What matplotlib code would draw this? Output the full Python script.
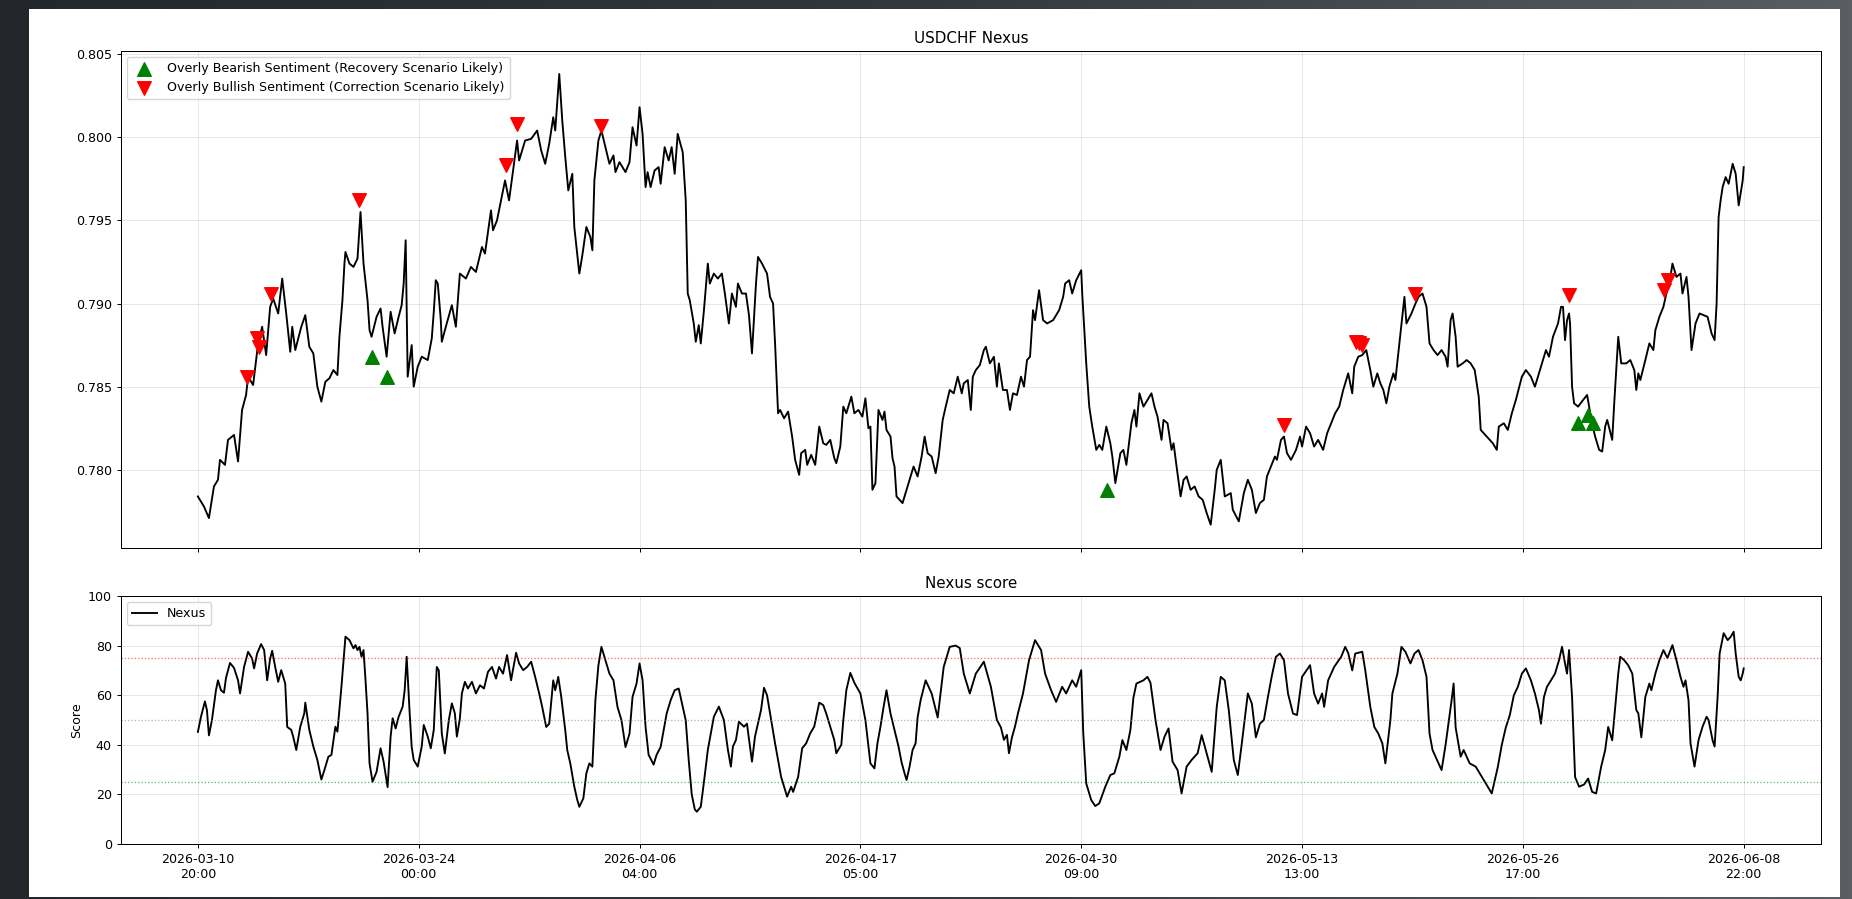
import numpy as np
import matplotlib
matplotlib.use('Agg')  # no display
import matplotlib.pyplot as plt
from matplotlib.patches import Rectangle
from matplotlib.colors import LinearSegmentedColormap

# ─────────────────────────────────────────────────────────────────
# Data (x = bar index, hourly bars)
# ─────────────────────────────────────────────────────────────────
tick_labels = ['2026-03-10\n20:00', '2026-03-24\n00:00', '2026-04-06\n04:00',
               '2026-04-17\n05:00', '2026-04-30\n09:00', '2026-05-13\n13:00',
               '2026-05-26\n17:00', '2026-06-08\n22:00']
LAST_BAR = 1540

price_points = [
    (0, 0.7784), (6, 0.7778), (11, 0.7771), (16, 0.7790), (20, 0.7794), (22, 0.7806), (27, 0.7803), (30, 0.7818), (36, 0.7821), (40, 0.7805),
    (44, 0.7836), (48, 0.7845), (50, 0.7856), (55, 0.7851), (60, 0.7876), (64, 0.7886), (68, 0.7869), (72, 0.7898), (75, 0.7903), (80, 0.7894),
    (84, 0.7915), (88, 0.7894), (92, 0.7871), (94, 0.7886), (97, 0.7872), (103, 0.7886), (107, 0.7893), (111, 0.7874), (115, 0.7870), (119, 0.7850),
    (123, 0.7841), (127, 0.7853), (131, 0.7855), (135, 0.7860), (139, 0.7857), (141, 0.7880), (144, 0.7902), (146, 0.7924), (147, 0.7931), (151, 0.7924),
    (155, 0.7922), (159, 0.7927), (162, 0.7955), (165, 0.7924), (169, 0.7902), (171, 0.7884), (173, 0.7880), (178, 0.7892), (182, 0.7897), (184, 0.7886),
    (188, 0.7868), (192, 0.7895), (196, 0.7882), (200, 0.7892), (203, 0.7899), (205, 0.7912), (207, 0.7938), (209, 0.7856), (213, 0.7875), (215, 0.7850),
    (219, 0.7862), (223, 0.7868), (229, 0.7866), (233, 0.7879), (235, 0.7895), (237, 0.7914), (239, 0.7912), (242, 0.7890), (243, 0.7877), (247, 0.7886),
    (253, 0.7899), (257, 0.7886), (261, 0.7918), (267, 0.7915), (272, 0.7922), (277, 0.7919), (283, 0.7934), (286, 0.7930), (292, 0.7956), (294, 0.7944),
    (298, 0.7950), (302, 0.7962), (306, 0.7974), (310, 0.7962), (314, 0.7980), (318, 0.7998), (320, 0.7986), (326, 0.7998), (332, 0.7999), (338, 0.8004),
    (342, 0.7992), (346, 0.7984), (350, 0.7996), (354, 0.8012), (356, 0.8004), (360, 0.8038), (363, 0.8010), (366, 0.7988), (369, 0.7968), (373, 0.7978),
    (375, 0.7946), (380, 0.7918), (383, 0.7929), (387, 0.7946), (391, 0.7940), (393, 0.7932), (395, 0.7974), (399, 0.7998), (402, 0.8004), (406, 0.7994),
    (410, 0.7984), (414, 0.7989), (416, 0.7979), (420, 0.7985), (426, 0.7979), (430, 0.7985), (433, 0.8006), (437, 0.7995), (440, 0.8018), (443, 0.8002),
    (446, 0.7970), (448, 0.7979), (451, 0.7970), (455, 0.7980), (459, 0.7982), (461, 0.7972), (465, 0.7994), (469, 0.7986), (472, 0.7994), (475, 0.7978),
    (478, 0.8002), (483, 0.7991), (486, 0.7962), (488, 0.7906), (490, 0.7902), (494, 0.7888), (496, 0.7877), (499, 0.7887), (501, 0.7876), (504, 0.7895),
    (508, 0.7924), (510, 0.7912), (514, 0.7918), (518, 0.7915), (522, 0.7918), (525, 0.7906), (529, 0.7888), (532, 0.7906), (536, 0.7898), (538, 0.7912),
    (542, 0.7906), (546, 0.7906), (549, 0.7893), (552, 0.7870), (556, 0.7912), (558, 0.7928), (562, 0.7924), (567, 0.7918), (570, 0.7904), (573, 0.7900),
    (575, 0.7876), (578, 0.7834), (580, 0.7836), (584, 0.7831), (588, 0.7835), (592, 0.7820), (595, 0.7806), (599, 0.7797), (601, 0.7810), (605, 0.7812),
    (607, 0.7803), (611, 0.7809), (615, 0.7803), (619, 0.7826), (623, 0.7816), (626, 0.7815), (630, 0.7818), (634, 0.7807), (636, 0.7804), (640, 0.7814),
    (643, 0.7838), (646, 0.7834), (651, 0.7844), (654, 0.7834), (658, 0.7836), (662, 0.7832), (665, 0.7843), (668, 0.7825), (670, 0.7826), (672, 0.7788),
    (675, 0.7792), (678, 0.7836), (682, 0.7830), (684, 0.7835), (686, 0.7824), (690, 0.7820), (692, 0.7807), (694, 0.7802), (696, 0.7784), (702, 0.7780),
    (707, 0.7790), (713, 0.7802), (717, 0.7796), (721, 0.7808), (724, 0.7820), (727, 0.7810), (731, 0.7808), (735, 0.7798), (738, 0.7808), (742, 0.7830),
    (745, 0.7838), (749, 0.7848), (753, 0.7846), (757, 0.7856), (761, 0.7846), (763, 0.7852), (767, 0.7854), (770, 0.7836), (772, 0.7856), (775, 0.7860),
    (779, 0.7863), (783, 0.7872), (785, 0.7874), (789, 0.7864), (793, 0.7868), (796, 0.7850), (798, 0.7864), (802, 0.7848), (806, 0.7848), (809, 0.7836),
    (812, 0.7846), (816, 0.7845), (820, 0.7856), (823, 0.7850), (826, 0.7866), (829, 0.7868), (832, 0.7896), (834, 0.7890), (838, 0.7908), (842, 0.7890),
    (846, 0.7888), (852, 0.7890), (858, 0.7896), (862, 0.7904), (864, 0.7912), (868, 0.7914), (871, 0.7906), (875, 0.7914), (880, 0.7920), (881, 0.7906),
    (885, 0.7864), (888, 0.7838), (891, 0.7826), (895, 0.7812), (898, 0.7815), (901, 0.7812), (905, 0.7826), (909, 0.7816), (911, 0.7808), (914, 0.7792),
    (919, 0.7810), (922, 0.7812), (925, 0.7803), (930, 0.7828), (933, 0.7836), (935, 0.7826), (938, 0.7846), (942, 0.7838), (946, 0.7842), (950, 0.7846),
    (953, 0.7838), (956, 0.7832), (960, 0.7818), (962, 0.7830), (966, 0.7828), (970, 0.7812), (972, 0.7816), (975, 0.7802), (979, 0.7784), (982, 0.7794),
    (985, 0.7796), (989, 0.7788), (993, 0.7790), (997, 0.7784), (1001, 0.7782), (1005, 0.7774), (1009, 0.7767), (1013, 0.7788), (1015, 0.7800), (1019, 0.7806),
    (1023, 0.7784), (1029, 0.7786), (1031, 0.7776), (1037, 0.7769), (1042, 0.7786), (1046, 0.7794), (1050, 0.7788), (1054, 0.7774), (1058, 0.7780), (1062, 0.7782),
    (1065, 0.7796), (1069, 0.7802), (1073, 0.7808), (1075, 0.7806), (1079, 0.7818), (1082, 0.7820), (1085, 0.7810), (1089, 0.7806), (1094, 0.7812), (1098, 0.7820),
    (1100, 0.7814), (1104, 0.7826), (1108, 0.7822), (1112, 0.7814), (1116, 0.7818), (1121, 0.7812), (1125, 0.7822), (1129, 0.7828), (1133, 0.7834), (1137, 0.7838),
    (1141, 0.7848), (1146, 0.7858), (1150, 0.7846), (1152, 0.7862), (1156, 0.7868), (1160, 0.7869), (1164, 0.7872), (1168, 0.7860), (1171, 0.7850), (1175, 0.7858),
    (1178, 0.7852), (1181, 0.7848), (1184, 0.7840), (1187, 0.7850), (1191, 0.7858), (1193, 0.7854), (1197, 0.7876), (1200, 0.7892), (1202, 0.7904), (1204, 0.7888),
    (1209, 0.7894), (1213, 0.7900), (1216, 0.7904), (1220, 0.7906), (1224, 0.7898), (1227, 0.7876), (1231, 0.7872), (1235, 0.7869), (1239, 0.7872), (1243, 0.7868),
    (1245, 0.7862), (1248, 0.7890), (1250, 0.7894), (1253, 0.7880), (1255, 0.7862), (1260, 0.7864), (1264, 0.7866), (1268, 0.7864), (1272, 0.7860), (1276, 0.7844),
    (1278, 0.7824), (1284, 0.7820), (1290, 0.7816), (1294, 0.7812), (1296, 0.7826), (1301, 0.7828), (1305, 0.7824), (1309, 0.7834), (1313, 0.7842), (1319, 0.7856),
    (1323, 0.7860), (1328, 0.7856), (1332, 0.7850), (1336, 0.7858), (1339, 0.7864), (1343, 0.7872), (1346, 0.7868), (1350, 0.7880), (1355, 0.7888), (1358, 0.7898),
    (1360, 0.7898), (1362, 0.7878), (1364, 0.7890), (1366, 0.7894), (1367, 0.7888), (1369, 0.7850), (1371, 0.7840), (1375, 0.7838), (1380, 0.7842), (1384, 0.7845),
    (1386, 0.7838), (1388, 0.7830), (1392, 0.7820), (1396, 0.7812), (1399, 0.7811), (1402, 0.7826), (1404, 0.7830), (1409, 0.7818), (1411, 0.7840), (1415, 0.7880),
    (1418, 0.7864), (1423, 0.7864), (1427, 0.7866), (1431, 0.7860), (1433, 0.7848), (1435, 0.7858), (1437, 0.7854), (1442, 0.7866), (1446, 0.7876), (1450, 0.7872),
    (1452, 0.7884), (1456, 0.7892), (1460, 0.7898), (1463, 0.7906), (1466, 0.7912), (1469, 0.7924), (1473, 0.7916), (1477, 0.7918), (1479, 0.7906), (1483, 0.7916),
    (1485, 0.7904), (1488, 0.7872), (1492, 0.7888), (1496, 0.7894), (1500, 0.7893), (1504, 0.7892), (1508, 0.7882), (1511, 0.7878), (1513, 0.7900), (1515, 0.7952),
    (1517, 0.7962), (1519, 0.7970), (1522, 0.7976), (1525, 0.7972), (1529, 0.7984), (1532, 0.7978), (1535, 0.7959), (1539, 0.7974), (1540, 0.7982),
]

score_points = [
    (0, 45.2), (3, 51.2), (7, 57.5), (9, 54), (11, 43.8), (14, 50), (18, 62), (20, 66), (23, 62), (26, 61),
    (28, 67), (30, 70), (32, 73), (36, 71), (40, 66), (42, 60.7), (46, 71.4), (50, 77.5), (54, 74.8), (56, 70.8),
    (59, 76.8), (63, 80.6), (66, 78.2), (69, 66), (72, 74.8), (74, 77.9), (77, 71.4), (80, 65.4), (83, 70.1), (87, 64.7),
    (89, 47.2), (93, 46), (95, 43.2), (98, 37.9), (102, 47.3), (106, 52.7), (107, 57), (111, 46), (115, 39.3), (119, 33.9),
    (123, 26), (126, 29.8), (130, 35.2), (133, 35.9), (137, 47.3), (139, 45.3), (143, 63.4), (147, 83.6), (151, 82.2), (155, 78.9),
    (157, 80.2), (159, 78.2), (161, 79.5), (163, 75.5), (165, 78.2), (167, 66), (169, 52.6), (171, 32.5), (174, 25.1), (178, 29.1),
    (182, 38.6), (185, 33.2), (189, 22.9), (192, 43.3), (194, 50.7), (197, 46.6), (200, 51.3), (204, 55.4), (206, 62), (208, 75.5),
    (211, 52.6), (213, 39.1), (215, 33.9), (219, 31.2), (223, 39.3), (225, 48), (229, 43.3), (232, 38.6), (235, 46), (236, 55),
    (238, 71.4), (240, 70), (243, 44.5), (246, 36.5), (250, 50), (253, 56.7), (256, 52.7), (258, 43.3), (261, 50.6), (263, 60.7),
    (266, 65.4), (269, 62.7), (273, 65.4), (277, 60.7), (281, 64), (285, 62.7), (289, 69.4), (293, 71.4), (297, 66.7), (300, 71.4),
    (304, 68.7), (308, 76.2), (312, 66), (317, 77.1), (320, 72.8), (324, 70.1), (328, 71.4), (332, 73.5), (336, 67.4), (340, 60.7),
    (343, 55.3), (347, 47.2), (350, 48.5), (354, 66), (356, 62), (359, 67.4), (362, 59.3), (366, 45.8), (368, 37.8), (371, 32.5),
    (375, 23.1), (378, 17.7), (380, 15), (384, 18.4), (387, 28.5), (390, 32.5), (393, 31.2), (396, 58), (399, 72), (402, 79.5),
    (406, 74.1), (410, 68.7), (414, 66), (418, 55.3), (422, 49.9), (426, 39.1), (430, 44.5), (433, 59.3), (437, 64.7), (440, 72.8),
    (443, 66), (446, 47.2), (449, 36), (454, 32), (457, 36), (461, 39.1), (467, 52.6), (471, 58), (475, 62), (479, 62.7),
    (483, 55.3), (486, 49.9), (489, 33.7), (492, 20), (495, 14), (497, 13), (501, 15), (504, 24.5), (508, 37.9), (514, 51.3),
    (519, 55.4), (524, 50), (528, 38), (531, 31.2), (533, 39.3), (536, 41.9), (539, 49.3), (544, 47.3), (547, 48.5), (552, 33.2),
    (555, 43.3), (561, 54), (564, 63), (567, 60), (570, 52.7), (575, 40.6), (581, 27.1), (585, 21.8), (587, 19.1), (591, 23.1),
    (593, 21), (598, 27.1), (602, 38.6), (606, 40.6), (610, 44.6), (614, 47.3), (619, 57), (623, 56), (626, 52.6), (634, 41.9),
    (636, 36.6), (641, 40), (643, 50), (646, 62), (650, 69), (654, 65), (660, 60.7), (665, 50), (670, 32.5), (674, 30.5),
    (677, 40.6), (680, 47.3), (683, 55), (686, 62), (690, 52.6), (694, 46), (698, 39.3), (701, 33), (704, 28.5), (706, 25.8),
    (709, 31.2), (712, 37.9), (715, 40.6), (717, 51), (720, 58), (725, 66), (731, 60.7), (737, 51), (743, 71.4), (749, 79.5),
    (755, 80), (759, 79), (763, 68.7), (769, 60.7), (775, 68.7), (783, 73.5), (790, 63.4), (796, 50), (800, 47), (803, 42),
    (806, 44), (808, 36.6), (811, 43), (814, 47.3), (817, 52.7), (822, 60.7), (828, 74.1), (834, 82.2), (840, 78.2), (844, 68.7),
    (850, 62), (855, 57.3), (861, 63.4), (865, 60.7), (871, 66), (875, 63.4), (880, 70.1), (882, 45), (885, 24.4), (890, 17.7),
    (894, 15.3), (898, 16.4), (904, 23.1), (909, 27.8), (913, 28.5), (918, 35.2), (921, 41.9), (925, 37.9), (929, 46), (932, 59),
    (935, 64.7), (942, 66), (946, 67.4), (949, 65), (954, 50), (959, 37.9), (963, 43.3), (967, 46.6), (971, 33.2), (976, 29.8),
    (980, 20.4), (985, 31.2), (990, 33.9), (996, 36.6), (1000, 43.9), (1004, 38), (1010, 29.1), (1015, 55.3), (1019, 67.4), (1023, 66),
    (1027, 54), (1032, 33.9), (1036, 27.8), (1040, 40.6), (1046, 60.7), (1050, 56.6), (1054, 43), (1058, 48.5), (1062, 50), (1066, 59.3),
    (1070, 68), (1074, 75.5), (1078, 76.8), (1082, 74.1), (1086, 60.7), (1091, 52.6), (1095, 52), (1100, 67.4), (1108, 72.1), (1112, 60.7),
    (1116, 56.6), (1120, 60.7), (1122, 55.3), (1126, 66), (1132, 71.4), (1139, 75.5), (1143, 79.5), (1146, 77), (1150, 70), (1153, 76.8),
    (1160, 77.5), (1163, 70), (1168, 55.3), (1172, 47.2), (1176, 44.5), (1180, 40.6), (1183, 32.5), (1188, 50), (1190, 60.7), (1195, 68.7),
    (1199, 79.5), (1203, 77.5), (1208, 72.8), (1212, 76.8), (1216, 78.2), (1220, 74.1), (1224, 67.4), (1227, 44.5), (1230, 37.9), (1236, 32.5),
    (1239, 29.8), (1243, 40), (1249, 58), (1251, 64.7), (1253, 47), (1258, 35.2), (1261, 37.9), (1267, 32.5), (1273, 31.2), (1278, 27.8),
    (1284, 23.8), (1289, 20.4), (1295, 31), (1299, 40), (1303, 47), (1307, 52), (1311, 60), (1315, 63.4), (1319, 68.7), (1323, 70.8),
    (1328, 66), (1332, 60.7), (1336, 54), (1338, 48.5), (1341, 59.3), (1344, 63.4), (1348, 66), (1352, 68.7), (1356, 74.1), (1359, 79.5),
    (1362, 72.8), (1364, 68.7), (1366, 78.2), (1369, 59.3), (1372, 27), (1376, 23.1), (1381, 24), (1385, 26.4), (1389, 21), (1393, 20.4),
    (1398, 31.2), (1402, 37.9), (1405, 47.2), (1409, 41.8), (1412, 55.3), (1415, 68.7), (1417, 75.5), (1421, 74.1), (1425, 72), (1429, 68.7),
    (1433, 54), (1435, 52.7), (1438, 43), (1442, 59.3), (1446, 64.7), (1448, 62), (1452, 68.7), (1456, 74.1), (1460, 78.2), (1464, 75),
    (1469, 80.2), (1473, 74.1), (1477, 67.4), (1480, 63.4), (1482, 66), (1485, 58), (1487, 40.6), (1491, 31.2), (1495, 41.9), (1499, 47.3),
    (1503, 51.3), (1505, 50), (1509, 41.8), (1511, 39.3), (1514, 59.3), (1516, 76.8), (1520, 85), (1524, 82.2), (1527, 83.5), (1530, 85.6),
    (1532, 76.8), (1535, 67.4), (1537, 66), (1539, 68.7), (1540, 70.8),
]

# green ^ : overly bearish sentiment
bearish_marks = [(173, 0.7868), (188, 0.7856), (906, 0.7788),
                 (1375, 0.7828), (1385, 0.7833), (1390, 0.7828)]
# red v : overly bullish sentiment
bullish_marks = [(49, 0.7856), (59, 0.7879), (61, 0.7874), (73, 0.7906),
                 (161, 0.7962), (307, 0.7983), (318, 0.8008), (402, 0.8007),
                 (1082, 0.7827), (1154, 0.7877), (1157, 0.7876), (1160, 0.7875),
                 (1213, 0.7906), (1366, 0.7905), (1461, 0.7908), (1465, 0.7914)]

THRESH_HIGH, THRESH_MID, THRESH_LOW = 75, 50, 25

# ─────────────────────────────────────────────────────────────────
# Style (reference was rendered at roughly 90 dpi)
# ─────────────────────────────────────────────────────────────────
S = 0.905
plt.rcParams.update({
    'font.family': 'DejaVu Sans',
    'font.size': 10 * S,
    'axes.linewidth': 0.8 * S,
    'axes.titlepad': 6 * S,
    'axes.labelpad': 4 * S,
    'xtick.major.size': 3.5 * S, 'ytick.major.size': 3.5 * S,
    'xtick.major.width': 0.8 * S, 'ytick.major.width': 0.8 * S,
    'xtick.major.pad': 3.5 * S, 'ytick.major.pad': 3.5 * S,
    'legend.fontsize': 10 * S,
    'grid.linewidth': 0.8 * S,
})

W, H = 1852, 899
fig = plt.figure(figsize=(W / 100, H / 100), dpi=100)

# dark backdrop around the white chart panel
bg = fig.add_axes([0, 0, 1, 1], zorder=-2)
bg_cmap = LinearSegmentedColormap.from_list('bg', ['#23262a', '#34373c', '#5a5d62'])
bg.imshow(np.linspace(0, 1, 256)[None, :], aspect='auto', cmap=bg_cmap,
          extent=[0, 1, 0, 1])
bg.axis('off')
fig.add_artist(Rectangle((29 / W, 1 - 897 / H), (1840 - 29) / W, (897 - 9) / H,
                         transform=fig.transFigure, facecolor='white',
                         edgecolor='none', zorder=-1))

ax1 = fig.add_axes([120.6 / W, 1 - 548 / H, (1821 - 120.6) / W, (548 - 50.7) / H])
ax2 = fig.add_axes([120.6 / W, 1 - 844 / H, (1821 - 120.6) / W, (844 - 596) / H],
                   sharex=ax1)

# ── Price panel ──────────────────────────────────────────────────
px, pv = zip(*price_points)
ax1.plot(px, pv, color='black', linewidth=1.5 * S)
bx, bv = zip(*bearish_marks)
ax1.scatter(bx, bv, marker='^', color='green', s=95, zorder=3,
            label='Overly Bearish Sentiment (Recovery Scenario Likely)')
ux, uv = zip(*bullish_marks)
ax1.scatter(ux, uv, marker='v', color='red', s=95, zorder=3,
            label='Overly Bullish Sentiment (Correction Scenario Likely)')
ax1.set_title('USDCHF Nexus')
ax1.set_ylim(0.7753, 0.8052)
ax1.legend(loc='upper left')
ax1.grid(True, alpha=0.3)
ax1.tick_params(labelbottom=False)

# ── Score panel ──────────────────────────────────────────────────
sx, sv = zip(*score_points)
ax2.plot(sx, sv, color='black', linewidth=1.5 * S, label='Nexus')
ax2.axhline(THRESH_HIGH, color='red', linestyle=':', linewidth=1.0 * S, alpha=0.6)
ax2.axhline(THRESH_MID, color='gray', linestyle=':', linewidth=1.0 * S, alpha=0.6)
ax2.axhline(THRESH_LOW, color='green', linestyle=':', linewidth=1.0 * S, alpha=0.6)
ax2.set_ylim(0, 100)
ax2.set_title('Nexus score')
ax2.set_ylabel('Score')
ax2.legend(loc='upper left')
ax2.grid(True, alpha=0.3)

ax2.set_xlim(-0.05 * LAST_BAR, 1.05 * LAST_BAR)
ax2.set_xticks(np.linspace(0, LAST_BAR, len(tick_labels)))
ax2.set_xticklabels(tick_labels)

fig.savefig('out.png', dpi=100)
plt.close(fig)
